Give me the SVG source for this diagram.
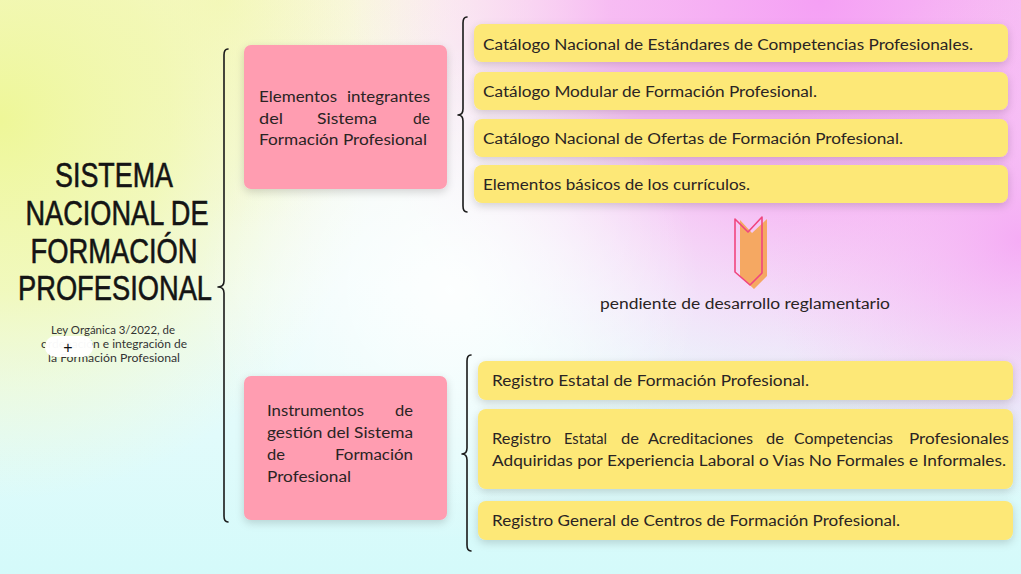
<svg xmlns="http://www.w3.org/2000/svg" width="1021" height="574" viewBox="0 0 1021 574">
<defs>
<linearGradient id="bgBase" x1="0" y1="0" x2="0" y2="1">
<stop offset="0" stop-color="#fbf6ee"/>
<stop offset="0.5" stop-color="#effcfc"/>
<stop offset="1" stop-color="#d4fafa"/>
</linearGradient>
<radialGradient id="gYel" cx="0" cy="120" r="380" gradientUnits="userSpaceOnUse">
<stop offset="0" stop-color="#eef798" stop-opacity="1"/>
<stop offset="0.45" stop-color="#f1f8ae" stop-opacity="0.8"/>
<stop offset="1" stop-color="#f6f9d0" stop-opacity="0"/>
</radialGradient>
<radialGradient id="gYel2" cx="220" cy="0" r="230" gradientUnits="userSpaceOnUse">
<stop offset="0" stop-color="#f3f7b0" stop-opacity="0.9"/>
<stop offset="1" stop-color="#f6f8c8" stop-opacity="0"/>
</radialGradient>
<radialGradient id="gPink" cx="820" cy="0" r="470" gradientUnits="userSpaceOnUse">
<stop offset="0" stop-color="#f5a0f5" stop-opacity="1"/>
<stop offset="0.45" stop-color="#f6aef4" stop-opacity="0.8"/>
<stop offset="1" stop-color="#fbd8f8" stop-opacity="0"/>
</radialGradient>
<radialGradient id="gPink2" cx="1021" cy="240" r="260" gradientUnits="userSpaceOnUse">
<stop offset="0" stop-color="#f5a6f4" stop-opacity="0.9"/>
<stop offset="1" stop-color="#f8c8f6" stop-opacity="0"/>
</radialGradient>
<radialGradient id="gWhite" cx="450" cy="290" r="250" gradientUnits="userSpaceOnUse">
<stop offset="0" stop-color="#ffffff" stop-opacity="0.85"/>
<stop offset="1" stop-color="#ffffff" stop-opacity="0"/>
</radialGradient>
<filter id="sh" x="-10%" y="-20%" width="120%" height="150%">
<feDropShadow dx="0" dy="3" stdDeviation="4" flood-color="#000" flood-opacity="0.16"/>
</filter>
<style>
.pink{fill:#ff9db1;filter:url(#sh)}
.yel{fill:#fde877;filter:url(#sh)}
.t{font-family:"Lato","Noto Sans","Liberation Sans",sans-serif;font-size:15.5px;fill:#2a2424}
.title{font-family:"Liberation Sans","DejaVu Sans",sans-serif;font-size:35px;fill:#141414;stroke:#141414;stroke-width:0.6;text-anchor:middle}
.law{font-family:"Lato","Noto Sans","Liberation Sans",sans-serif;font-size:11.5px;fill:#333;text-anchor:middle}
.brace{fill:none;stroke:#1a1a1a;stroke-width:1.6;stroke-linecap:round;stroke-linejoin:round}
</style>
</defs>

<g id="background">
<rect x="0" y="0" width="1021" height="574" fill="url(#bgBase)"/>
<rect x="0" y="0" width="1021" height="574" fill="url(#gYel2)"/>
<rect x="0" y="0" width="1021" height="574" fill="url(#gYel)"/>
<rect x="0" y="0" width="1021" height="574" fill="url(#gPink)"/>
<rect x="0" y="0" width="1021" height="574" fill="url(#gPink2)"/>
<rect x="0" y="0" width="1021" height="574" fill="url(#gWhite)"/>
</g>

<g id="connectors">
<path class="brace" d="M228,49 Q224,49 224,55 L224,281 Q224,287 218,287 Q224,287 224,293 L224,516 Q224,522 228,522"/>
<path class="brace" d="M467,17 Q463,17 463,23 L463,109 Q463,115 458,115 Q463,115 463,121 L463,206 Q463,212 467,212"/>
<path class="brace" d="M471,355 Q467,355 467,361 L467,448 Q467,454 462,454 Q467,454 467,460 L467,545 Q467,551 471,551"/>
<g id="arrow">
<polygon points="740,220 752,233 767,219 767,276 754,289 740,276" fill="#f5a862"/>
<polygon points="735,219 748,232 762,217 762,273 750,285 735,272" fill="none" stroke="#f0457f" stroke-width="1.6" stroke-linejoin="round"/>
</g>
</g>

<g id="title">
<text class="title" x="114" y="187" textLength="118" lengthAdjust="spacingAndGlyphs">SISTEMA</text>
<text class="title" x="117" y="225" textLength="183" lengthAdjust="spacingAndGlyphs">NACIONAL DE</text>
<text class="title" x="114" y="263" textLength="167" lengthAdjust="spacingAndGlyphs">FORMACIÓN</text>
<text class="title" x="115" y="300" textLength="194" lengthAdjust="spacingAndGlyphs">PROFESIONAL</text>
</g>

<g id="law">
<text class="law" x="113" y="334" textLength="124" lengthAdjust="spacingAndGlyphs">Ley Orgánica 3/2022, de</text>
<text class="law" x="114" y="348" textLength="146" lengthAdjust="spacingAndGlyphs">ordenación e integración de</text>
<text class="law" x="114" y="362" textLength="132" lengthAdjust="spacingAndGlyphs">la Formación Profesional</text>
<rect x="45" y="336" width="48" height="21" rx="10" fill="#ffffff" opacity="0.97"/>
<text x="68" y="353" font-family="Liberation Sans, sans-serif" font-size="16" fill="#111" text-anchor="middle">+</text>
</g>

<g id="node-elementos">
<rect class="pink" x="244" y="45" width="203" height="144" rx="7"/>
<text class="t" y="102"><tspan x="259" textLength="78" lengthAdjust="spacingAndGlyphs">Elementos</tspan><tspan x="347" textLength="83" lengthAdjust="spacingAndGlyphs">integrantes</tspan></text>
<text class="t" y="124"><tspan x="259" textLength="24" lengthAdjust="spacingAndGlyphs">del</tspan><tspan x="317" textLength="60" lengthAdjust="spacingAndGlyphs">Sistema</tspan><tspan x="413" textLength="17" lengthAdjust="spacingAndGlyphs">de</tspan></text>
<text class="t" y="145" x="259" textLength="168" lengthAdjust="spacingAndGlyphs">Formación Profesional</text>
</g>

<g id="node-instrumentos">
<rect class="pink" x="244" y="376" width="203" height="144" rx="7"/>
<text class="t" y="416"><tspan x="267" textLength="97" lengthAdjust="spacingAndGlyphs">Instrumentos</tspan><tspan x="395" textLength="18" lengthAdjust="spacingAndGlyphs">de</tspan></text>
<text class="t" y="438" x="267" textLength="146" lengthAdjust="spacingAndGlyphs">gestión del Sistema</text>
<text class="t" y="460"><tspan x="267" textLength="18" lengthAdjust="spacingAndGlyphs">de</tspan><tspan x="335" textLength="78" lengthAdjust="spacingAndGlyphs">Formación</tspan></text>
<text class="t" y="482" x="267" textLength="84" lengthAdjust="spacingAndGlyphs">Profesional</text>
</g>

<g id="node-cat-estandares">
<rect class="yel" x="474" y="24" width="534" height="38" rx="8"/>
<text class="t" x="483" y="50" textLength="490" lengthAdjust="spacingAndGlyphs">Catálogo Nacional de Estándares de Competencias Profesionales.</text>
</g>
<g id="node-cat-modular">
<rect class="yel" x="474" y="72" width="534" height="38" rx="8"/>
<text class="t" x="483" y="97" textLength="334" lengthAdjust="spacingAndGlyphs">Catálogo Modular de Formación Profesional.</text>
</g>
<g id="node-cat-ofertas">
<rect class="yel" x="474" y="119" width="534" height="38" rx="8"/>
<text class="t" x="483" y="144" textLength="420" lengthAdjust="spacingAndGlyphs">Catálogo Nacional de Ofertas de Formación Profesional.</text>
</g>
<g id="node-curriculos">
<rect class="yel" x="474" y="165" width="534" height="38" rx="8"/>
<text class="t" x="483" y="190" textLength="267" lengthAdjust="spacingAndGlyphs">Elementos básicos de los currículos.</text>
</g>

<g id="node-pendiente">
<text class="t" x="745" y="309" text-anchor="middle" textLength="290" lengthAdjust="spacingAndGlyphs">pendiente de desarrollo reglamentario</text>
</g>

<g id="node-reg-estatal">
<rect class="yel" x="478" y="361" width="535" height="39" rx="8"/>
<text class="t" x="492" y="386" textLength="317" lengthAdjust="spacingAndGlyphs">Registro Estatal de Formación Profesional.</text>
</g>
<g id="node-reg-acreditaciones">
<rect class="yel" x="478" y="409" width="535" height="80" rx="8"/>
<text class="t" y="444"><tspan x="492" textLength="59" lengthAdjust="spacingAndGlyphs">Registro</tspan><tspan x="564" textLength="43" lengthAdjust="spacingAndGlyphs">Estatal</tspan><tspan x="621" textLength="18" lengthAdjust="spacingAndGlyphs">de</tspan><tspan x="648" textLength="105" lengthAdjust="spacingAndGlyphs">Acreditaciones</tspan><tspan x="766" textLength="18" lengthAdjust="spacingAndGlyphs">de</tspan><tspan x="794" textLength="99" lengthAdjust="spacingAndGlyphs">Competencias</tspan><tspan x="909" textLength="100" lengthAdjust="spacingAndGlyphs">Profesionales</tspan></text>
<text class="t" x="492" y="466" textLength="514" lengthAdjust="spacingAndGlyphs">Adquiridas por Experiencia Laboral o Vias No Formales e Informales.</text>
</g>
<g id="node-reg-centros">
<rect class="yel" x="478" y="501" width="535" height="39" rx="8"/>
<text class="t" x="492" y="526" textLength="408" lengthAdjust="spacingAndGlyphs">Registro General de Centros de Formación Profesional.</text>
</g>
</svg>
